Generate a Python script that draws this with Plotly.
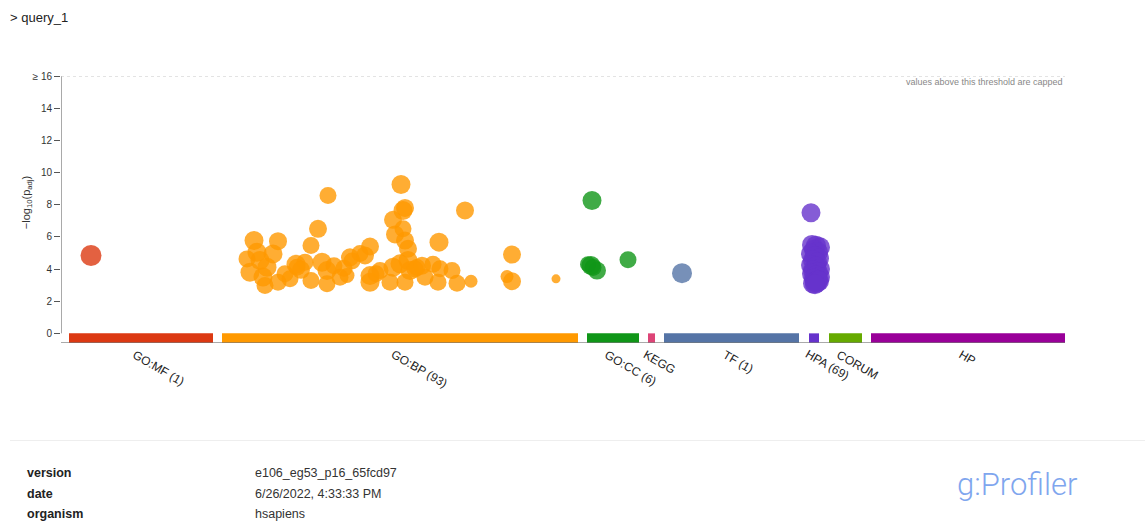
import plotly.graph_objects as go

# ---- data sources along the term axis ----
sources = ["GO:MF", "GO:BP", "GO:CC", "KEGG", "TF", "HPA", "CORUM", "HP"]
source_labels = ["GO:MF (1)", "GO:BP (93)", "GO:CC (6)", "KEGG", "TF (1)",
                 "HPA (69)", "CORUM", "HP"]
source_colors = ["#dc3912", "#ff9900", "#109618", "#dd4477", "#5574a6",
                 "#6633cc", "#66aa00", "#990099"]
source_start = [8, 161, 526, 587, 603, 748, 768, 810]
source_end = [152, 517, 578, 594, 738, 758, 801, 1004]

# ---- significant terms per source: position, -log10(p_adj), marker size ----
mf_pos = [30]
mf_val = [4.84]
mf_size = [21]

bp_pos = [193, 217, 196, 186, 212, 189, 199, 206, 204, 217, 202, 224, 229, 236,
          235, 244, 250, 250, 257, 261, 266, 266, 267, 273, 279, 286, 289, 291,
          299, 304, 309, 309, 309, 319, 329, 332, 332, 334, 339, 340, 342, 344,
          342, 344, 347, 347, 349, 344, 354, 361, 364, 377, 378, 379, 391, 396,
          404, 410, 446, 451, 451, 495, 240, 283, 315, 356, 372]
bp_val = [5.77, 5.73, 5.04, 4.63, 4.94, 3.80, 4.53, 4.11, 2.97, 3.18, 3.50,
          3.70, 3.39, 4.11, 4.30, 4.42, 5.46, 3.28, 6.50, 4.42, 3.90, 3.08,
          8.57, 4.20, 3.49, 3.60, 4.73, 4.50, 4.96, 4.84, 5.40, 3.59, 3.18,
          3.90, 3.18, 4.11, 7.06, 6.15, 4.32, 9.26, 7.64, 7.80, 6.50, 5.77,
          5.26, 4.53, 3.90, 3.18, 4.00, 4.21, 3.49, 3.18, 5.67, 4.01, 3.90,
          3.11, 7.64, 3.24, 3.53, 4.90, 3.24, 3.39, 3.95, 4.05, 3.70, 4.10,
          4.30]
bp_size = [19, 18, 19, 17, 19, 19, 19, 19, 17, 17, 19, 17, 17, 17, 19, 17, 17,
           17, 18, 19, 19, 17, 17, 17, 17, 15, 18, 17, 17, 18, 18, 19, 19, 17,
           17, 19, 18, 18, 19, 19, 19, 18, 17, 18, 18, 19, 19, 17, 17, 18, 17,
           17, 19, 17, 17, 17, 18, 13, 13, 18, 18, 9, 18, 17, 17, 17, 17]

cc_pos = [531, 530, 536, 532, 527, 567]
cc_val = [8.26, 4.22, 3.90, 4.10, 4.30, 4.57]
cc_size = [19, 19, 18, 17, 16, 17]

tf_pos = [621]
tf_val = [3.74]
tf_size = [20]

hpa_pos = [750, 751, 755, 759, 753, 757, 750, 754, 758, 752, 756, 750, 755,
           759, 752, 757, 751, 755, 759, 753, 757, 754, 756, 752, 758, 754]
hpa_val = [7.50, 5.50, 5.45, 5.35, 5.20, 5.05, 4.95, 4.80, 4.65, 4.55, 4.40,
           4.25, 4.15, 4.00, 3.90, 3.80, 3.70, 3.60, 3.50, 3.40, 3.30, 3.20,
           3.15, 3.10, 3.25, 3.05]
hpa_size = [19, 20, 20, 20, 20, 20, 20, 20, 20, 20, 20, 20, 20, 20, 20, 20,
            20, 20, 20, 20, 20, 20, 20, 20, 20, 20]

term_pos = [mf_pos, bp_pos, cc_pos, [], tf_pos, hpa_pos, [], []]
term_val = [mf_val, bp_val, cc_val, [], tf_val, hpa_val, [], []]
term_size = [mf_size, bp_size, cc_size, [], tf_size, hpa_size, [], []]

y_ticks = [0, 2, 4, 6, 8, 10, 12, 14, 16]
y_tick_text = ["0", "2", "4", "6", "8", "10", "12", "14", "\u2265 16"]
y_cap = 16

footer_keys = ["version", "date", "organism"]
footer_vals = ["e106_eg53_p16_65fcd97", "6/26/2022, 4:33:33 PM", "hsapiens"]

# ---- geometry ----
W, H = 1145, 521
ML, MR, MT, MB = 61, 80, 76, 178.4
X_MAX = 1004
Y_MIN = -0.6
BAR_H = 0.58
FONT = "Liberation Sans, Arial, Helvetica, sans-serif"
PW, PH = W - ML - MR, H - MT - MB


def paper(px, py):
    """Convert page pixels to paper coordinates."""
    return (px - ML) / PW, (H - MB - py) / PH


fig = go.Figure()

# source bars under the zero line
for name, color, s, e in zip(sources, source_colors, source_start, source_end):
    fig.add_trace(go.Bar(
        x=[(s + e) / 2], y=[BAR_H], base=[-BAR_H], width=[e - s],
        marker=dict(color=color, line=dict(width=0)),
        name=name, showlegend=False, hoverinfo="skip"))

# term markers
for name, color, xs, ys, ss in zip(sources, source_colors, term_pos,
                                   term_val, term_size):
    if not xs:
        continue
    fig.add_trace(go.Scatter(
        x=xs, y=ys, mode="markers", name=name, showlegend=False,
        marker=dict(color=color, size=ss, opacity=0.8, line=dict(width=0))))

shapes = [
    # y axis line
    dict(type="line", xref="x", yref="y", x0=0, x1=0, y0=0, y1=y_cap,
         line=dict(color="#555", width=1)),
    # x axis line
    dict(type="line", xref="x", yref="y", x0=0, x1=X_MAX, y0=Y_MIN, y1=Y_MIN,
         line=dict(color="#555", width=1)),
    # cap threshold
    dict(type="line", xref="x", yref="y", x0=0, x1=X_MAX, y0=y_cap, y1=y_cap,
         line=dict(color="#c8c8c8", width=1, dash="3px,3px")),
]
# footer divider
x0p, y0p = paper(10, 440)
x1p, _ = paper(W, 440)
shapes.append(dict(type="line", xref="paper", yref="paper", x0=x0p, x1=x1p,
                   y0=y0p, y1=y0p, line=dict(color="#eeeeee", width=1)))

annotations = []
# source labels, rotated, hanging below the bars
_, label_top = paper(0, 347)
for label, s, e in zip(source_labels, source_start, source_end):
    annotations.append(dict(
        x=(s + e) / 2, y=label_top, xref="x", yref="paper", text=label,
        showarrow=False, textangle=30, xanchor="left", yanchor="top",
        borderpad=0, borderwidth=0, xshift=-11,
        font=dict(family=FONT, size=12, color="#222")))

# threshold note
px, py = paper(1065, 82)
annotations.append(dict(x=px, y=py, xref="paper", yref="paper",
                        text="values above this threshold are capped",
                        showarrow=False, xanchor="right", yanchor="middle",
                        font=dict(family=FONT, size=9, color="#888")))

# y axis title
px, py = paper(27, 203)
annotations.append(dict(x=px, y=py, xref="paper", yref="paper",
                        text="\u2212log<sub>10</sub>(p<sub>adj</sub>)",
                        showarrow=False, textangle=-90, xanchor="center",
                        yanchor="middle",
                        font=dict(family=FONT, size=11, color="#333")))

# query name
px, py = paper(8, 18)
annotations.append(dict(x=px, y=py, xref="paper", yref="paper",
                        text="&gt; query_1", showarrow=False,
                        xanchor="left", yanchor="middle",
                        font=dict(family=FONT, size=13, color="#222")))

# footer metadata
for i, (k, v) in enumerate(zip(footer_keys, footer_vals)):
    ky = 472.5 + i * 20.5
    px, py = paper(25, ky)
    annotations.append(dict(x=px, y=py, xref="paper", yref="paper",
                            text="<b>%s</b>" % k, showarrow=False,
                            xanchor="left", yanchor="middle",
                            font=dict(family=FONT, size=12.5, color="#222")))
    px, py = paper(253, ky)
    annotations.append(dict(x=px, y=py, xref="paper", yref="paper",
                            text=v, showarrow=False,
                            xanchor="left", yanchor="middle",
                            font=dict(family=FONT, size=12.5, color="#333")))

# logo text
px, py = paper(1017, 484)
annotations.append(dict(x=px, y=py, xref="paper", yref="paper",
                        text="g:Profiler", showarrow=False,
                        xanchor="center", yanchor="middle",
                        font=dict(family="Roboto", size=31, color="#7fa6ee",
                                  weight=300)))

fig.update_layout(
    width=W, height=H, autosize=False,
    margin=dict(l=ML, r=MR, t=MT, b=MB, pad=0),
    paper_bgcolor="white", plot_bgcolor="white",
    barmode="overlay",
    xaxis=dict(range=[0, X_MAX], visible=False, fixedrange=True),
    yaxis=dict(range=[Y_MIN, y_cap], tickvals=y_ticks, ticktext=y_tick_text,
               ticks="outside", ticklen=6, tickcolor="#555", tickwidth=1,
               showline=False, showgrid=False, zeroline=False,
               tickfont=dict(family=FONT, size=10, color="#333"),
               fixedrange=True),
    shapes=shapes,
    annotations=annotations,
    showlegend=False,
)

fig.write_html("out.html", config=dict(displayModeBar=False),
               post_script="document.body.style.margin='0';")
